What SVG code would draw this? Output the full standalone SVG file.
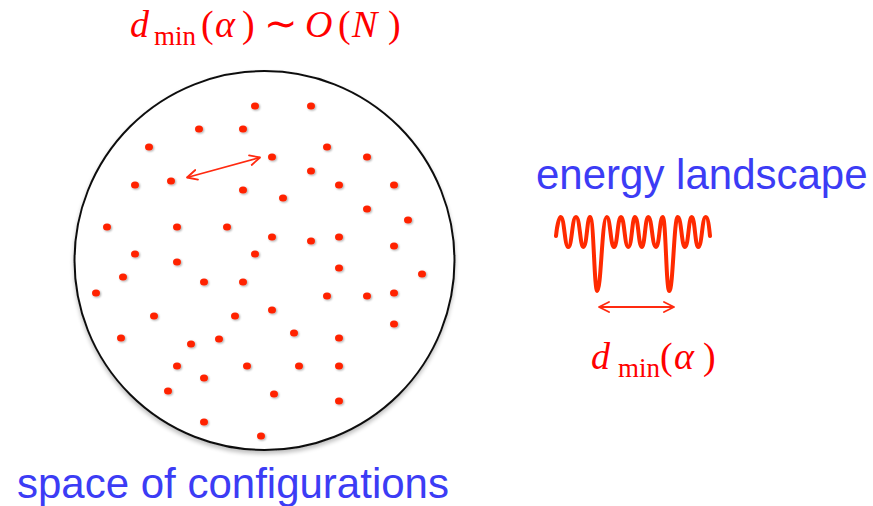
<svg xmlns="http://www.w3.org/2000/svg" width="873" height="506" viewBox="0 0 873 506">
<defs>
  <filter id="sh" x="-50%" y="-50%" width="200%" height="200%">
    <feGaussianBlur in="SourceAlpha" stdDeviation="0.8"/>
    <feOffset dx="0.5" dy="1.2" result="b"/>
    <feComponentTransfer><feFuncA type="linear" slope="0.35"/></feComponentTransfer>
    <feMerge><feMergeNode/><feMergeNode in="SourceGraphic"/></feMerge>
  </filter>
  <filter id="csh" x="-10%" y="-10%" width="120%" height="120%">
    <feGaussianBlur in="SourceAlpha" stdDeviation="2"/>
    <feOffset dx="0" dy="3"/>
    <feComponentTransfer><feFuncA type="linear" slope="0.25"/></feComponentTransfer>
    <feMerge><feMergeNode/><feMergeNode in="SourceGraphic"/></feMerge>
  </filter>
  <marker id="ah" viewBox="0 0 12 12" refX="11" refY="6" markerWidth="12" markerHeight="12" markerUnits="userSpaceOnUse" orient="auto-start-reverse">
    <path d="M1,1 L11,6 L1,11" fill="none" stroke="#ff2a10" stroke-width="1.8" stroke-linecap="round" stroke-linejoin="round"/>
  </marker>
</defs>
<style>
  .dot{fill:#ff2200;filter:url(#sh)}
  .math{font-family:"Liberation Serif","Times New Roman",serif;fill:#ff0000;font-size:38px}
  .it{font-style:italic}
  .sub{font-size:27px}
  .lbl{font-family:"Liberation Sans",Arial,sans-serif;fill:#3c3cf5;font-size:42px}
  .arr{fill:none;stroke:#ff2a10;stroke-width:1.8;marker-start:url(#ah);marker-end:url(#ah)}
</style>
<rect width="873" height="506" fill="#ffffff"/>

<g id="title">
  <text class="math"><tspan class="it" x="130" y="37">d</tspan><tspan class="sub" x="154" y="45">min</tspan><tspan x="201" y="37">(</tspan><tspan class="it" x="215" y="37">α</tspan><tspan x="242" y="37">)</tspan><tspan x="264" y="37" font-size="40">∼</tspan><tspan class="it" x="305" y="37">O</tspan><tspan x="338" y="37">(</tspan><tspan class="it" x="352" y="37">N</tspan><tspan x="388" y="37">)</tspan></text>
</g>

<g id="configuration-space">
  <ellipse cx="264.5" cy="260.5" rx="190" ry="189.5" fill="#ffffff" stroke="#111111" stroke-width="2" filter="url(#csh)"/>
  <g id="dots">
    <ellipse class="dot" cx="255" cy="106" rx="4" ry="3.5"/>
    <ellipse class="dot" cx="311" cy="106" rx="4" ry="3.5"/>
    <ellipse class="dot" cx="199" cy="129" rx="4" ry="3.5"/>
    <ellipse class="dot" cx="243" cy="129" rx="4" ry="3.5"/>
    <ellipse class="dot" cx="149" cy="147" rx="4" ry="3.5"/>
    <ellipse class="dot" cx="327" cy="147" rx="4" ry="3.5"/>
    <ellipse class="dot" cx="272" cy="157" rx="4" ry="3.5"/>
    <ellipse class="dot" cx="367" cy="157" rx="4" ry="3.5"/>
    <ellipse class="dot" cx="171" cy="181" rx="4" ry="3.5"/>
    <ellipse class="dot" cx="135" cy="185" rx="4" ry="3.5"/>
    <ellipse class="dot" cx="243" cy="190" rx="4" ry="3.5"/>
    <ellipse class="dot" cx="311" cy="171" rx="4" ry="3.5"/>
    <ellipse class="dot" cx="339" cy="185" rx="4" ry="3.5"/>
    <ellipse class="dot" cx="394" cy="185" rx="4" ry="3.5"/>
    <ellipse class="dot" cx="283" cy="198" rx="4" ry="3.5"/>
    <ellipse class="dot" cx="367" cy="209" rx="4" ry="3.5"/>
    <ellipse class="dot" cx="408" cy="220" rx="4" ry="3.5"/>
    <ellipse class="dot" cx="107" cy="227" rx="4" ry="3.5"/>
    <ellipse class="dot" cx="177" cy="227" rx="4" ry="3.5"/>
    <ellipse class="dot" cx="227" cy="227" rx="4" ry="3.5"/>
    <ellipse class="dot" cx="272" cy="237" rx="4" ry="3.5"/>
    <ellipse class="dot" cx="311" cy="241" rx="4" ry="3.5"/>
    <ellipse class="dot" cx="339" cy="237" rx="4" ry="3.5"/>
    <ellipse class="dot" cx="394" cy="246" rx="4" ry="3.5"/>
    <ellipse class="dot" cx="135" cy="254" rx="4" ry="3.5"/>
    <ellipse class="dot" cx="255" cy="254" rx="4" ry="3.5"/>
    <ellipse class="dot" cx="177" cy="262" rx="4" ry="3.5"/>
    <ellipse class="dot" cx="339" cy="268" rx="4" ry="3.5"/>
    <ellipse class="dot" cx="123" cy="277" rx="4" ry="3.5"/>
    <ellipse class="dot" cx="422" cy="274" rx="4" ry="3.5"/>
    <ellipse class="dot" cx="204" cy="282" rx="4" ry="3.5"/>
    <ellipse class="dot" cx="243" cy="282" rx="4" ry="3.5"/>
    <ellipse class="dot" cx="96" cy="293" rx="4" ry="3.5"/>
    <ellipse class="dot" cx="394" cy="293" rx="4" ry="3.5"/>
    <ellipse class="dot" cx="327" cy="296" rx="4" ry="3.5"/>
    <ellipse class="dot" cx="367" cy="296" rx="4" ry="3.5"/>
    <ellipse class="dot" cx="154" cy="316" rx="4" ry="3.5"/>
    <ellipse class="dot" cx="235" cy="316" rx="4" ry="3.5"/>
    <ellipse class="dot" cx="272" cy="310" rx="4" ry="3.5"/>
    <ellipse class="dot" cx="394" cy="324" rx="4" ry="3.5"/>
    <ellipse class="dot" cx="121" cy="338" rx="4" ry="3.5"/>
    <ellipse class="dot" cx="191" cy="344" rx="4" ry="3.5"/>
    <ellipse class="dot" cx="219" cy="339" rx="4" ry="3.5"/>
    <ellipse class="dot" cx="294" cy="333" rx="4" ry="3.5"/>
    <ellipse class="dot" cx="339" cy="338" rx="4" ry="3.5"/>
    <ellipse class="dot" cx="177" cy="366" rx="4" ry="3.5"/>
    <ellipse class="dot" cx="247" cy="366" rx="4" ry="3.5"/>
    <ellipse class="dot" cx="299" cy="366" rx="4" ry="3.5"/>
    <ellipse class="dot" cx="339" cy="366" rx="4" ry="3.5"/>
    <ellipse class="dot" cx="204" cy="378" rx="4" ry="3.5"/>
    <ellipse class="dot" cx="168" cy="391" rx="4" ry="3.5"/>
    <ellipse class="dot" cx="274" cy="394" rx="4" ry="3.5"/>
    <ellipse class="dot" cx="339" cy="401" rx="4" ry="3.5"/>
    <ellipse class="dot" cx="204" cy="422" rx="4" ry="3.5"/>
    <ellipse class="dot" cx="261" cy="436" rx="4" ry="3.5"/>
  </g>
  <text class="lbl" x="17" y="498">space of configurations</text>
</g>

<g id="energy-landscape">
  <text class="lbl" x="536" y="189">energy landscape</text>
  <path fill="none" stroke="#ff2a00" stroke-width="4" stroke-linejoin="round" stroke-linecap="round"
    d="M556,236 C557,226 559,217 560.7,217 C564.5,217 564.5,247 568.3,247 C572,247 572,217 576,217 C580,217 580,247 583.3,247 C587,247 587,217 590,217 C594,217 594,291 597.3,291 C601,291 602,217 606.7,217 C610.5,217 610.5,247 614,247 C617.5,247 617.5,217 621,217 C624.5,217 624.5,247 628.3,247 C632,247 632,217 635,217 C638.5,217 638.5,247 641.7,247 C645,247 645,217 648.3,217 C652,217 652,247 656,247 C659.5,247 659.5,217 662.7,217 C666,217 666,291 669.3,291 C673,291 674,217 677.7,217 C681.5,217 681.5,247 685,247 C688.5,247 688.5,217 691.7,217 C695,217 695,247 698.3,247 C702,247 702,217 705.7,217 C708,217 709,226 710,236"/>
  <text class="math"><tspan class="it" x="591" y="369">d</tspan><tspan class="sub" x="618" y="377">min</tspan><tspan x="660" y="369">(</tspan><tspan class="it" x="674" y="369">α</tspan><tspan x="703" y="369">)</tspan></text>
</g>

<g id="connectors">
  <line class="arr" x1="187" y1="177.5" x2="260" y2="157.5"/>
  <line class="arr" x1="599" y1="307" x2="674" y2="307"/>
</g>
</svg>
